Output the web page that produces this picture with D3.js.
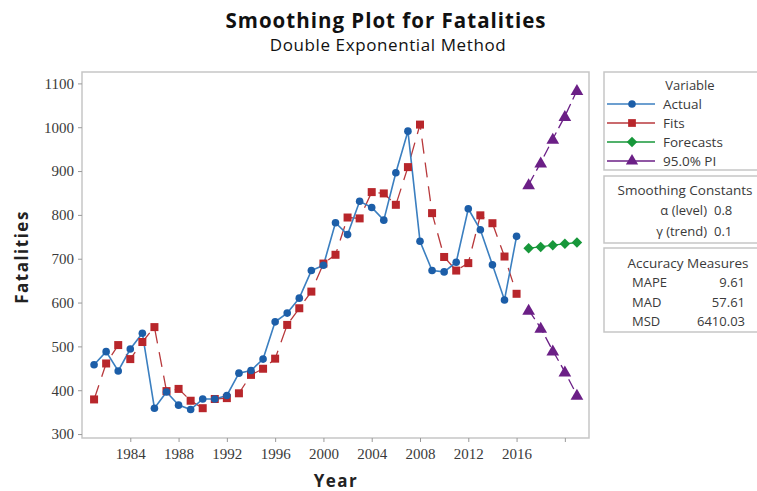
<!DOCTYPE html>
<html>
<head>
<meta charset="utf-8">
<script src="https://cdn.jsdelivr.net/npm/d3@7"></script>
<style>
  body { margin: 0; background: #fff; }
  svg { display: block; }
</style>
</head>
<body>
<div id="chart"></div>
<script>
// Smoothing plot (double exponential) — actual, fits, forecasts and 95% PI

const years = d3.range(1981, 2017);
const actual = [458, 488, 444, 494, 530, 359, 396, 366, 356, 380, 380, 388, 439, 445, 471, 556,
  576, 610, 673, 685, 782, 755, 831, 817, 788, 896, 991, 740, 673, 670, 692, 814, 766, 686, 606, 751];
const fits = [379, 461, 503, 471, 510, 544, 398, 403, 376, 359, 380, 382, 393, 435, 449, 472,
  549, 587, 625, 689, 709, 794, 792, 852, 849, 823, 909, 1006, 804, 704, 673, 690, 799, 781, 705, 620];

const forecastYears = [2017, 2018, 2019, 2020, 2021];
const forecasts = [724, 727, 731, 734, 737];
const upperPI = [869, 919, 973, 1025, 1084];
const lowerPI = [583, 542, 490, 442, 389];

const xTicks = [1984, 1988, 1992, 1996, 2000, 2004, 2008, 2012, 2016, 2020];
const xTickLabels = ["1984", "1988", "1992", "1996", "2000", "2004", "2008", "2012", "2016", ""];
const yTicks = [300, 400, 500, 600, 700, 800, 900, 1000, 1100];

const legendItems = ["Actual", "Fits", "Forecasts", "95.0% PI"];
const constantLabels = ["\u03b1 (level)", "\u03b3 (trend)"];
const constantValues = ["0.8", "0.1"];
const accuracyLabels = ["MAPE", "MAD", "MSD"];
const accuracyValues = ["9.61", "57.61", "6410.03"];

const width = 757, height = 491;
const plot = {left: 82, right: 589, top: 72, bottom: 438};

const colors = {
  actual: "#1c5ea8", actualLine: "#3b7fc0",
  fits: "#b8262b", fitsLine: "#b8393c",
  forecast: "#17973a", pi: "#6b1f86",
  frame: "#c6c6c6", text: "#3a3a3a"
};

const svg = d3.select("#chart").append("svg")
  .attr("width", width)
  .attr("height", height);

const x = d3.scaleLinear().domain([1980, 2022]).range([plot.left, plot.right]);
const y = d3.scaleLinear().domain([291, 1126]).range([plot.bottom, plot.top]);

// titles
svg.append("text")
  .attr("x", 386).attr("y", 28)
  .attr("text-anchor", "middle")
  .attr("font-family", "'Open Sans', sans-serif")
  .attr("font-size", "20.5px").attr("font-weight", 700)
  .attr("letter-spacing", "1px")
  .attr("fill", "#111")
  .text("Smoothing Plot for Fatalities");

svg.append("text")
  .attr("x", 388).attr("y", 51)
  .attr("text-anchor", "middle")
  .attr("font-family", "'Open Sans', sans-serif")
  .attr("font-size", "17px")
  .attr("letter-spacing", "0.6px")
  .attr("fill", "#111")
  .text("Double Exponential Method");

// plot frame
svg.append("rect")
  .attr("x", plot.left).attr("y", plot.top)
  .attr("width", plot.right - plot.left).attr("height", plot.bottom - plot.top)
  .attr("fill", "#fff")
  .attr("stroke", colors.frame).attr("stroke-width", 1.5);

// axes
const yAxis = svg.append("g")
  .attr("transform", `translate(${plot.left},0)`)
  .call(d3.axisLeft(y).tickValues(yTicks).tickSize(4).tickPadding(4).tickFormat(d3.format("d")));

const xAxis = svg.append("g")
  .attr("transform", `translate(0,${plot.bottom})`)
  .call(d3.axisBottom(x).tickValues(xTicks).tickSize(4).tickPadding(6)
    .tickFormat((d, i) => xTickLabels[i]));

[xAxis, yAxis].forEach(g => {
  g.select(".domain").remove();
  g.selectAll(".tick line").attr("stroke", "#9a9a9a");
  g.selectAll("text")
    .attr("font-family", "'Liberation Serif', serif")
    .attr("font-size", "15px")
    .attr("fill", colors.text);
});

// axis titles
svg.append("text")
  .attr("x", 336).attr("y", 487)
  .attr("text-anchor", "middle")
  .attr("font-family", "'Open Sans', sans-serif")
  .attr("font-size", "17px").attr("font-weight", 700)
  .attr("letter-spacing", "1.5px")
  .attr("fill", "#222")
  .text("Year");

svg.append("text")
  .attr("transform", "translate(28,257) rotate(-90)")
  .attr("text-anchor", "middle")
  .attr("font-family", "'Open Sans', sans-serif")
  .attr("font-size", "17px").attr("font-weight", 700)
  .attr("letter-spacing", "1.5px")
  .attr("fill", "#222")
  .text("Fatalities");

const line = d3.line().x(d => x(d[0])).y(d => y(d[1]));
const pts = (xs, vs) => xs.map((d, i) => [d, vs[i]]);

const fitPts = pts(years, fits);
const actPts = pts(years, actual);
const fcPts = pts(forecastYears, forecasts);
const upPts = pts(forecastYears, upperPI);
const loPts = pts(forecastYears, lowerPI);

// fits line (dashed)
svg.append("path")
  .datum(fitPts)
  .attr("d", line)
  .attr("fill", "none")
  .attr("stroke", colors.fitsLine).attr("stroke-width", 1.3)
  .attr("stroke-dasharray", "15,9");

// actual line
svg.append("path")
  .datum(actPts)
  .attr("d", line)
  .attr("fill", "none")
  .attr("stroke", colors.actualLine).attr("stroke-width", 1.6);

// PI lines
[upPts, loPts].forEach(p => {
  svg.append("path")
    .datum(p)
    .attr("d", line)
    .attr("fill", "none")
    .attr("stroke", colors.pi).attr("stroke-width", 1.3)
    .attr("stroke-dasharray", "11,5");
});

// forecast line
svg.append("path")
  .datum(fcPts)
  .attr("d", line)
  .attr("fill", "none")
  .attr("stroke", colors.forecast).attr("stroke-width", 1.3);

// markers
svg.append("g").selectAll("rect")
  .data(fitPts)
  .join("rect")
  .attr("x", d => x(d[0]) - 4).attr("y", d => y(d[1]) - 4)
  .attr("width", 8).attr("height", 8)
  .attr("fill", colors.fits);

svg.append("g").selectAll("circle")
  .data(actPts)
  .join("circle")
  .attr("cx", d => x(d[0])).attr("cy", d => y(d[1]))
  .attr("r", 3.8)
  .attr("fill", colors.actual);

svg.append("g").selectAll("path")
  .data(fcPts)
  .join("path")
  .attr("transform", d => `translate(${x(d[0])},${y(d[1])})`)
  .attr("d", d3.symbol(d3.symbolDiamond2, 70))
  .attr("fill", colors.forecast);

svg.append("g").selectAll("path")
  .data(upPts.concat(loPts))
  .join("path")
  .attr("transform", d => `translate(${x(d[0])},${y(d[1]) + 1})`)
  .attr("d", d3.symbol(d3.symbolTriangle, 70))
  .attr("fill", colors.pi);

// legend boxes
const legendX = 604, legendW = 160;
const boxes = [[72, 98], [176, 67], [248, 84]];
boxes.forEach(b => {
  svg.append("rect")
    .attr("x", legendX).attr("y", b[0])
    .attr("width", legendW).attr("height", b[1])
    .attr("fill", "#fff")
    .attr("stroke", colors.frame).attr("stroke-width", 1.5);
});

const lgFont = "'Open Sans', sans-serif";
svg.append("text")
  .attr("x", 690).attr("y", 90)
  .attr("text-anchor", "middle")
  .attr("font-family", lgFont).attr("font-size", "13px")
  .attr("fill", colors.text)
  .text("Variable");

const legendStyles = [
  {color: colors.actual, line: colors.actualLine, shape: d3.symbolCircle, size: 45},
  {color: colors.fits, line: colors.fitsLine, shape: d3.symbolSquare, size: 60},
  {color: colors.forecast, line: colors.forecast, shape: d3.symbolDiamond2, size: 70},
  {color: colors.pi, line: colors.pi, shape: d3.symbolTriangle, size: 65}
];
legendItems.forEach((name, i) => {
  const yy = 104 + i * 19;
  const st = legendStyles[i];
  svg.append("line")
    .attr("x1", 607).attr("x2", 655)
    .attr("y1", yy).attr("y2", yy)
    .attr("stroke", st.line).attr("stroke-width", 1.4);
  svg.append("path")
    .attr("transform", `translate(632,${yy})`)
    .attr("d", d3.symbol(st.shape, st.size))
    .attr("fill", st.color);
  svg.append("text")
    .attr("x", 663).attr("y", yy + 5)
    .attr("font-family", lgFont).attr("font-size", "13.5px")
    .attr("fill", colors.text)
    .text(name);
});

svg.append("text")
  .attr("x", 685).attr("y", 195)
  .attr("text-anchor", "middle")
  .attr("font-family", lgFont).attr("font-size", "13.5px")
  .attr("fill", colors.text)
  .text("Smoothing Constants");

constantLabels.forEach((lab, i) => {
  const yy = 215 + i * 21;
  svg.append("text")
    .attr("x", 707).attr("y", yy)
    .attr("text-anchor", "end")
    .attr("font-family", lgFont).attr("font-size", "13px")
    .attr("fill", colors.text)
    .text(lab);
  svg.append("text")
    .attr("x", 714).attr("y", yy)
    .attr("font-family", lgFont).attr("font-size", "13px")
    .attr("fill", colors.text)
    .text(constantValues[i]);
});

svg.append("text")
  .attr("x", 688).attr("y", 268)
  .attr("text-anchor", "middle")
  .attr("font-family", lgFont).attr("font-size", "13.5px")
  .attr("fill", colors.text)
  .text("Accuracy Measures");

accuracyLabels.forEach((lab, i) => {
  const yy = 287 + i * 19.5;
  svg.append("text")
    .attr("x", 632).attr("y", yy)
    .attr("font-family", lgFont).attr("font-size", "13px")
    .attr("fill", colors.text)
    .text(lab);
  svg.append("text")
    .attr("x", 745).attr("y", yy)
    .attr("text-anchor", "end")
    .attr("font-family", lgFont).attr("font-size", "13px")
    .attr("fill", colors.text)
    .text(accuracyValues[i]);
});
</script>
</body>
</html>
